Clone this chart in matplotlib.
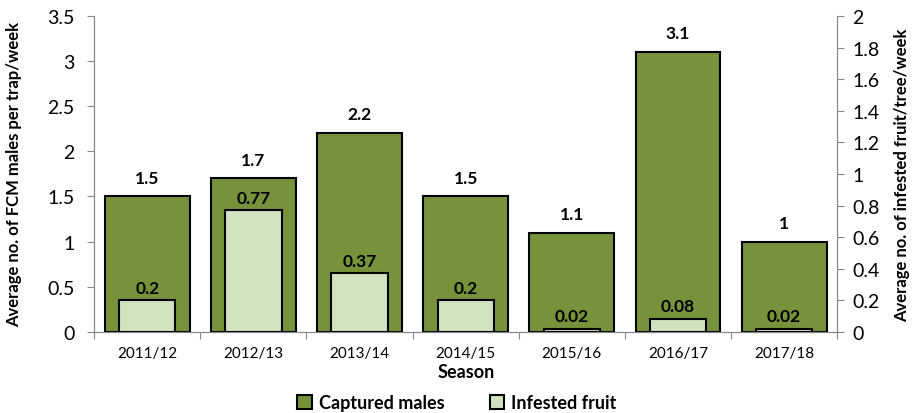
import matplotlib.pyplot as plt
import numpy as np

plt.rcParams['font.family'] = ['Lato', 'DejaVu Sans']

seasons = ["2011/12", "2012/13", "2013/14", "2014/15", "2015/16", "2016/17", "2017/18"]
captured_males = [1.5, 1.7, 2.2, 1.5, 1.1, 3.1, 1.0]
infested_fruit = [0.2, 0.77, 0.37, 0.2, 0.02, 0.08, 0.02]
male_labels = ["1.5", "1.7", "2.2", "1.5", "1.1", "3.1", "1"]
fruit_labels = ["0.2", "0.77", "0.37", "0.2", "0.02", "0.08", "0.02"]

dark = "#76933C"
light = "#D0E3BE"
grey = "#888888"

fig = plt.figure(figsize=(9.14, 4.14), dpi=100)
ax = fig.add_axes([0.103, 0.196, 0.813, 0.763])
ax2 = ax.twinx()

x = np.arange(len(seasons))
ax.bar(x, captured_males, 0.8, color=dark, edgecolor="black", linewidth=1.5,
       label="Captured males", zorder=2)
ax2.bar(x, infested_fruit, 0.53, color=light, edgecolor="black", linewidth=1.5,
        label="Infested fruit", zorder=3)

for i, v in enumerate(captured_males):
    ax.text(x[i], v + 0.12, male_labels[i], ha="center", va="bottom",
            fontsize=12.5, fontweight="bold")
for i, v in enumerate(infested_fruit):
    ax2.text(x[i], v + 0.03, fruit_labels[i], ha="center", va="bottom",
             fontsize=12.5, fontweight="bold", zorder=5)

ax.set_xlim(-0.5, len(seasons) - 0.5)
ax.set_ylim(0, 3.5)
ax.set_yticks(np.arange(0, 3.51, 0.5))
ax.set_yticklabels(["0", "0.5", "1", "1.5", "2", "2.5", "3", "3.5"])
ax2.set_ylim(0, 2)
ax2.set_yticks(np.arange(0, 2.01, 0.2))
ax2.set_yticklabels(["0", "0.2", "0.4", "0.6", "0.8", "1", "1.2", "1.4", "1.6", "1.8", "2"])

ax.set_xticks(np.arange(-0.5, len(seasons), 1))
ax.set_xticklabels([])
ax.set_xticks(x, minor=True)
ax.set_xticklabels(seasons, minor=True, fontsize=11)
ax.tick_params(axis="x", which="minor", length=0, pad=10)
ax.tick_params(axis="x", which="major", length=5, color=grey)

ax.tick_params(axis="y", labelsize=14, color=grey, length=5, pad=9)
ax2.tick_params(axis="y", labelsize=14, color=grey, length=5, pad=6)

for a in (ax, ax2):
    a.spines["top"].set_visible(False)
    for s in ("left", "right", "bottom"):
        a.spines[s].set_color(grey)

ax.set_xlabel("Season", fontsize=13, fontweight="bold", labelpad=2)
ax.set_ylabel("Average no. of FCM males per trap/week", fontsize=12, fontweight="bold",
              labelpad=18)
ax2.set_ylabel("Average no. of infested fruit/tree/week", fontsize=12, fontweight="bold",
               labelpad=10)

h1, l1 = ax.get_legend_handles_labels()
h2, l2 = ax2.get_legend_handles_labels()
fig.legend(h1 + h2, l1 + l2, loc="lower center", ncol=2, frameon=False,
           bbox_to_anchor=(0.5, -0.035), prop={"weight": "bold", "size": 13},
           handlelength=0.8, handleheight=0.8, columnspacing=2.5, handletextpad=0.4)

fig.savefig("out.png", dpi=100)
